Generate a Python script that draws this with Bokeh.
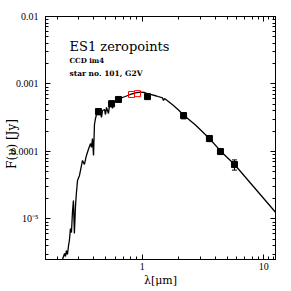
import math
from bokeh.plotting import figure
from bokeh.models import (LogAxis, LogTicker, FixedTicker, CustomJSTickFormatter, Label,
                          Whisker, TeeHead, ColumnDataSource, Range1d)
from bokeh.embed import file_html
from bokeh.resources import INLINE

# Model spectrum: wavelength [micron], F_nu [Jy]
spec_wl = [0.205, 0.221, 0.230, 0.234, 0.238, 0.243, 0.248, 0.252, 0.257, 0.262,
           0.267, 0.272, 0.277, 0.283, 0.288, 0.294, 0.305, 0.311, 0.323, 0.335,
           0.348, 0.361, 0.376, 0.383, 0.390, 0.398, 0.405, 0.413, 0.421, 0.437,
           0.454, 0.463, 0.472, 0.490, 0.499, 0.509, 0.528, 0.538, 0.560, 0.570,
           0.581, 0.615, 0.638, 0.689, 0.743, 0.801, 0.881, 0.968, 1.044, 1.170,
           1.311, 1.469, 1.497, 1.525, 1.644, 1.808, 1.989, 2.187, 2.449, 2.742,
           3.573, 4.402, 5.745, 12.48, 16.6]
spec_flux = [1.85e-6, 2.51e-6, 3.08e-6, 2.78e-6, 3.41e-6, 2.98e-6, 4.05e-6, 4.80e-6, 7.23e-6, 6.31e-6,
             1.25e-5, 1.88e-5, 6.10e-6, 1.58e-5, 2.47e-5, 3.72e-5, 4.41e-5, 5.23e-5, 7.36e-5, 6.42e-5,
             8.73e-5, 1.07e-4, 1.31e-4, 1.15e-4, 1.56e-4, 8.73e-5, 2.51e-4, 3.08e-4, 3.53e-4, 3.91e-4,
             3.79e-4, 3.19e-4, 4.05e-4, 4.19e-4, 3.53e-4, 4.49e-4, 3.66e-4, 4.80e-4, 5.14e-4, 4.34e-4,
             5.32e-4, 5.89e-4, 5.89e-4, 6.31e-4, 6.64e-4, 6.99e-4, 7.36e-4, 7.56e-4, 7.48e-4, 6.99e-4,
             6.64e-4, 6.21e-4, 5.70e-4, 6.10e-4, 5.51e-4, 4.80e-4, 4.12e-4, 3.47e-4, 2.93e-4, 2.47e-4,
             1.56e-4, 1.02e-4, 6.41e-5, 1.26e-5, 7.11e-6]

# Photometric zeropoint measurements
phot_wl = [0.437, 0.560, 0.638, 1.105, 2.19, 3.57, 4.40, 5.74]
phot_flux = [3.9e-4, 5.1e-4, 5.9e-4, 6.5e-4, 3.4e-4, 1.56e-4, 1.0e-4, 6.4e-5]
phot_err = [0.4e-4, 0.5e-4, 0.4e-4, 0.5e-4, 0.35e-4, 0.16e-4, 0.1e-4, 1.1e-5]

# CCD (red) points
red_wl = [0.817, 0.915]
red_flux = [7.0e-4, 7.2e-4]

# Ticks and tick labels
x_major_ticks = [1, 10]
x_minor_ticks = [0.2, 0.3, 0.4, 0.5, 0.6, 0.7, 0.8, 0.9, 2, 3, 4, 5, 6, 7, 8, 9, 11, 12]
x_tick_labels = ["1", "10"]
y_tick_values = [1e-2, 1e-3, 1e-4, 1e-5]
y_tick_labels = ["0.01", "0.001", "0.0001", "10\u207b\u2075"]

title_text = "ES1 zeropoints"
sub1_text = "CCD im4"
sub2_text = "star no. 101, G2V"
x_label = "\u03bb[\u03bcm]"
y_label = "F(\u03bd) [Jy]"

p = figure(width=291, height=291, x_axis_type="log", y_axis_type="log",
           x_range=Range1d(0.1603, 12.48), y_range=Range1d(2.51e-6, 1.0001e-2),
           output_backend="svg", toolbar_location=None,
           min_border_left=45, min_border_right=16, min_border_top=16, min_border_bottom=32)
p.grid.visible = False
p.outline_line_color = "black"
p.background_fill_color = "white"
p.border_fill_color = "white"

fmt_code = """
const lt = Math.log10(tick);
for (let i = 0; i < vals.length; i++) {
  if (Math.abs(Math.log10(vals[i]) - lt) < 0.01) return labs[i];
}
return "";
"""
xfmt = CustomJSTickFormatter(args=dict(vals=x_major_ticks, labs=x_tick_labels), code=fmt_code)
yfmt = CustomJSTickFormatter(args=dict(vals=y_tick_values, labs=y_tick_labels), code=fmt_code)


def style(ax):
    ax.major_tick_in = 5
    ax.major_tick_out = 0
    ax.minor_tick_in = 3
    ax.minor_tick_out = 0
    ax.axis_line_color = "black"
    ax.major_tick_line_color = "black"
    ax.minor_tick_line_color = "black"
    ax.major_label_text_font = "Liberation Serif"
    ax.major_label_text_font_size = "10px"
    ax.major_label_text_color = "black"


xa = p.xaxis[0]
ya = p.yaxis[0]
xa.ticker = FixedTicker(ticks=x_major_ticks, minor_ticks=x_minor_ticks)
ya.ticker = LogTicker(num_minor_ticks=10)
xa.formatter = xfmt
ya.formatter = yfmt
style(xa)
style(ya)
xa.major_label_standoff = 3
ya.major_label_standoff = 7
xa.axis_label = x_label
xa.axis_label_text_font = "DejaVu Serif"
xa.axis_label_text_font_size = "11px"
xa.axis_label_text_font_style = "normal"
xa.axis_label_standoff = 1
xa.axis_label_text_color = "black"

# trailing en spaces push the visible label a little below the frame centre
ya.axis_label = y_label + "\u2002\u2002"
ya.axis_label_text_font = "DejaVu Serif"
ya.axis_label_text_font_size = "12px"
ya.axis_label_text_font_style = "normal"
ya.axis_label_standoff = -11
ya.axis_label_text_color = "black"

top = LogAxis(ticker=FixedTicker(ticks=x_major_ticks, minor_ticks=x_minor_ticks),
              formatter=CustomJSTickFormatter(code="return '';"))
right = LogAxis(ticker=LogTicker(num_minor_ticks=10),
                formatter=CustomJSTickFormatter(code="return '';"))
for ax, loc in ((top, "above"), (right, "right")):
    style(ax)
    ax.major_label_text_font_size = "0px"
    ax.major_label_standoff = 0
    p.add_layout(ax, loc)

# spectrum
p.line(spec_wl, spec_flux, line_color="black", line_width=1.3)

# photometry with error bars
src = ColumnDataSource(dict(
    x=phot_wl, y=phot_flux,
    upper=[f + e for f, e in zip(phot_flux, phot_err)],
    lower=[f - e for f, e in zip(phot_flux, phot_err)]))
p.add_layout(Whisker(source=src, base="x", upper="upper", lower="lower",
                     line_color="black", line_width=1,
                     upper_head=TeeHead(size=5, line_color="black", line_width=1),
                     lower_head=TeeHead(size=5, line_color="black", line_width=1)))
p.scatter("x", "y", source=src, marker="square", size=6,
          fill_color="black", line_color="black")

p.scatter(red_wl, red_flux, marker="square", size=6,
          fill_color=None, line_color="red", line_width=1)

# annotations
p.add_layout(Label(x=24, y=206, x_units="screen", y_units="screen", text=title_text,
                   text_font="DejaVu Serif", text_font_size="13px", text_color="black"))
p.add_layout(Label(x=24, y=195, x_units="screen", y_units="screen", text=sub1_text,
                   text_font="DejaVu Serif", text_font_size="7px", text_font_style="bold",
                   text_color="black"))
p.add_layout(Label(x=24, y=182, x_units="screen", y_units="screen", text=sub2_text,
                   text_font="DejaVu Serif", text_font_size="7.5px", text_font_style="bold",
                   text_color="black"))

open("out.html", "w").write(file_html(p, INLINE))
